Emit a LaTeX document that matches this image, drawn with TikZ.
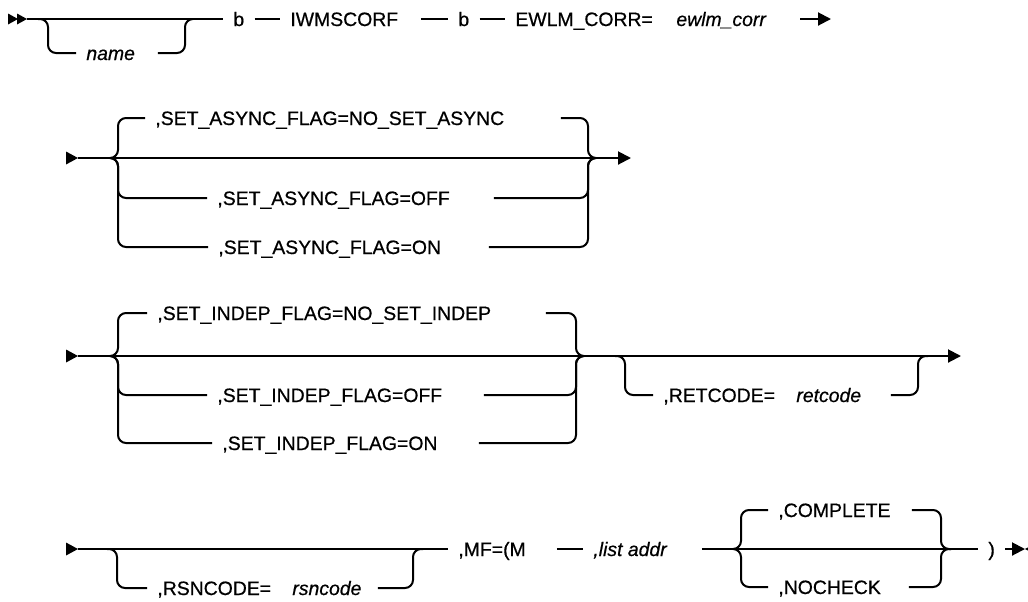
\documentclass[tikz,border=0pt]{standalone}
\usepackage{fontspec}
\setmainfont{Liberation Sans}[FakeBold=0.6]
\usetikzlibrary{arrows.meta}
\newcommand{\wbox}[2]{\makebox[#1][l]{#2}}

\begin{document}
\begin{tikzpicture}[
  x=0.5pt, y=-0.5pt,
  rail/.style={line width=1pt, rounded corners=4pt},
  railarrow/.style={rail, -{Triangle[length=6.5pt, width=6.5pt]}},
  term/.style={anchor=west, inner xsep=5pt, inner ysep=0pt, text height=7pt, text depth=0pt, font=\fontsize{9.7}{11}\selectfont},
  var/.style={term, font=\fontsize{9.7}{11}\selectfont\itshape},
  railbegin/.pic={\fill (-10,5.5) -- (0,0) -- (-10,-5.5) -- cycle;
                  \fill (-19,5.5) -- (-9,0) -- (-19,-5.5) -- cycle;},
  railstart/.pic={\fill (-12,6.5) -- (0,0) -- (-12,-6.5) -- cycle;},
  railstop/.pic={\fill (12,6.5) -- (0,0) -- (12,-6.5) -- cycle;}
]
\useasboundingbox (0,0) rectangle (1028,601);

% line 1
\coordinate (r1s) at (27,19);
\coordinate (r1l) at (38,19);
\coordinate (r1r) at (185,19);
\coordinate (r1a) at (800,19);
\coordinate (r1e) at (831,19);
\node[var] (name) at (76,53) {\wbox{30.5pt}{name}};
\node[term] (b1) at (223,19) {b};
\node[term] (iwms) at (280,19) {\wbox{60pt}{IWMSCORF}};
\node[term] (b2) at (448,19) {b};
\node[term] (ewlm) at (505,19) {EWLM\_CORR=};
\node[var] (corr) at (666,19) {ewlm\_corr};
\pic at (r1s) {railbegin};
\draw[rail] (r1s) -- (b1);
\draw[rail] (r1l) -- ++(10,0) |- (name.west);
\draw[rail] (name.east) -| (r1r) -- ++(8,0);
\draw[rail] (b1) -- (iwms);
\draw[rail] (iwms) -- (b2);
\draw[rail] (b2) -- (ewlm);
\draw[railarrow] (r1a) -- (r1e);

% line 2
\coordinate (r2s) at (78,158);
\coordinate (r2l) at (110,158);
\coordinate (r2r) at (588,158);
\coordinate (r2e) at (631,158);
\node[term] (async0) at (145,118) {\wbox{197.5pt}{,SET\_ASYNC\_FLAG=NO\_SET\_ASYNC}};
\node[term] (async1) at (207,198) {\wbox{133pt}{,SET\_ASYNC\_FLAG=OFF}};
\node[term] (async2) at (208,247) {\wbox{130pt}{,SET\_ASYNC\_FLAG=ON}};
\pic at (r2s) {railstart};
\draw[railarrow] (r2s) -- (r2e);
\foreach \n in {async0, async1, async2} {
  \draw[rail] (r2l) -- ++(8,0) |- (\n.west);
  \draw[rail] (\n.east) -| (r2r) -- ++(8,0);
}

% line 3
\coordinate (r3s) at (78,356);
\coordinate (r3l) at (110,356);
\coordinate (r3r) at (576,356);
\coordinate (r3b) at (615,356);
\coordinate (r3c) at (918,356);
\coordinate (r3e) at (961,356);
\node[term] (indep0) at (147,313) {\wbox{189pt}{,SET\_INDEP\_FLAG=NO\_SET\_INDEP}};
\node[term] (indep1) at (207,395) {\wbox{128pt}{,SET\_INDEP\_FLAG=OFF}};
\node[term] (indep2) at (212,443) {\wbox{123pt}{,SET\_INDEP\_FLAG=ON}};
\node[term] (rc) at (653,395) {,RETCODE=};
\node[var] (rcv) at (786,395) {\wbox{42pt}{retcode}};
\pic at (r3s) {railstart};
\draw[railarrow] (r3s) -- (r3e);
\foreach \n in {indep0, indep1, indep2} {
  \draw[rail] (r3l) -- ++(8,0) |- (\n.west);
  \draw[rail] (\n.east) -| (r3r) -- ++(8,0);
}
\draw[rail] (r3b) -- ++(10,0) |- (rc.west);
\draw[rail] (rcv.east) -| (r3c) -- ++(10,0);

% line 4
\coordinate (r4s) at (78,549);
\coordinate (r4l) at (107,549);
\coordinate (r4r) at (413,549);
\coordinate (r4m) at (733,549);
\coordinate (r4n) at (941,549);
\coordinate (r4e) at (1025,549);
\node[term] (rsn) at (147,588) {,RSNCODE=};
\node[var] (rsnv) at (282,588) {\wbox{37.5pt}{rsncode}};
\node[term] (mf) at (448,549) {\wbox{44pt}{,MF=(M}};
\node[var] (list) at (583,549) {\wbox{49pt}{,list addr}};
\node[term] (chk0) at (768,510) {\wbox{61.5pt}{,COMPLETE}};
\node[term] (chk1) at (768,587) {\wbox{60pt}{,NOCHECK}};
\node[term] (paren) at (978,549) {)};
\pic at (r4s) {railstart};
\draw[rail] (r4s) -- (mf);
\draw[rail] (r4l) -- ++(10,0) |- (rsn.west);
\draw[rail] (rsnv.east) -| (r4r) -- ++(10,0);
\draw[rail] (mf) -- (list);
\draw[rail] (list) -- (paren);
\foreach \n in {chk0, chk1} {
  \draw[rail] (r4m) -- ++(8,0) |- (\n.west);
  \draw[rail] (\n.east) -| (r4n) -- ++(10,0);
}
\draw[railarrow] (paren) -- (r4e);
\pic at (r4e) {railstop};
\end{tikzpicture}
\end{document}
